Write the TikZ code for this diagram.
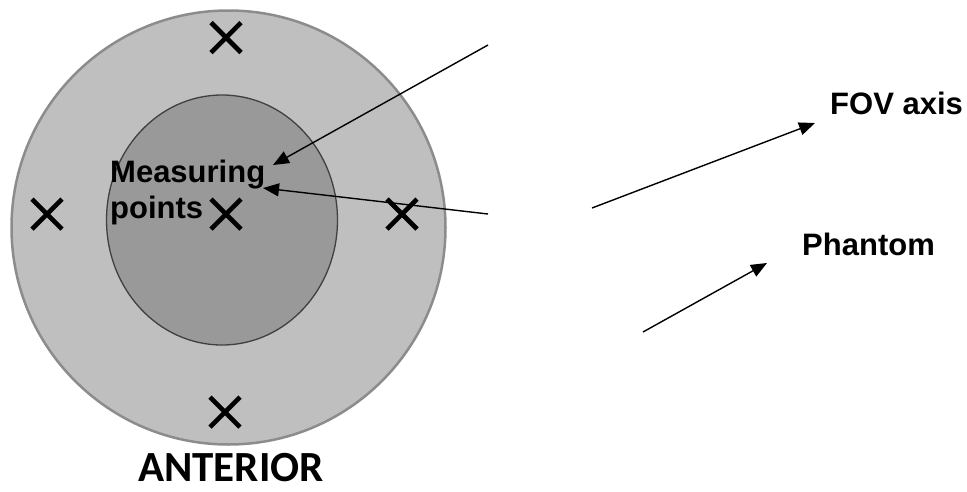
\documentclass[tikz,border=0pt]{standalone}
\usepackage{fontspec}
\setmainfont{Liberation Sans}
\newfontfamily\antfont{Carlito}
\usetikzlibrary{arrows.meta}
\tikzset{
  xmark/.style={line width=4.6pt, black},
  lbl/.style={font=\bfseries\fontsize{31}{36}\selectfont, inner sep=0pt, anchor=base west},
  pointer/.style={line width=1.4pt, -{Triangle[length=16pt,width=13pt]}},
}
\newcommand{\xm}[2]{\draw[xmark] (#1-15,#2-15) -- (#1+15,#2+15) (#1-15,#2+15) -- (#1+15,#2-15);}
\begin{document}
\begin{tikzpicture}[x=1pt,y=-1pt]
\useasboundingbox (0,0) rectangle (967,491);
% outer phantom
\draw[line width=2.5pt, draw=black!45, fill=black!25] (228.5,227.5) circle (217);
% inner region
\draw[line width=1.3pt, draw=black!75, fill=black!40] (222,220) ellipse [x radius=115.5, y radius=125];
% crosses
\xm{226}{37.5}
\xm{47}{214}
\xm{226}{214}
\xm{402}{214}
\xm{225}{412}
% labels
\node[lbl] (m1) at (110,182) {Measuring};
\node[lbl] (m2) at (110,218) {points};
\node[lbl] (fov) at (830,114) {FOV axis};
\node[lbl] (ph) at (802,255) {Phantom};
\node[font=\antfont\bfseries\fontsize{43}{48}\selectfont, inner sep=0pt, text depth=0pt, anchor=base] (ant) at (231,481) {ANTERIOR};
% arrow endpoints
\coordinate (a1s) at (488,45);
\coordinate (a1e) at (273,165);
\coordinate (a2s) at (488,214);
\coordinate (a2e) at (263,188);
\coordinate (a3s) at (592,208);
\coordinate (a3e) at (815,123);
\coordinate (a4s) at (643,332);
\coordinate (a4e) at (767,263);
\draw[pointer] (a1s) -- (a1e);
\draw[pointer] (a2s) -- (a2e);
\draw[pointer] (a3s) -- (a3e);
\draw[pointer] (a4s) -- (a4e);
\end{tikzpicture}
\end{document}
